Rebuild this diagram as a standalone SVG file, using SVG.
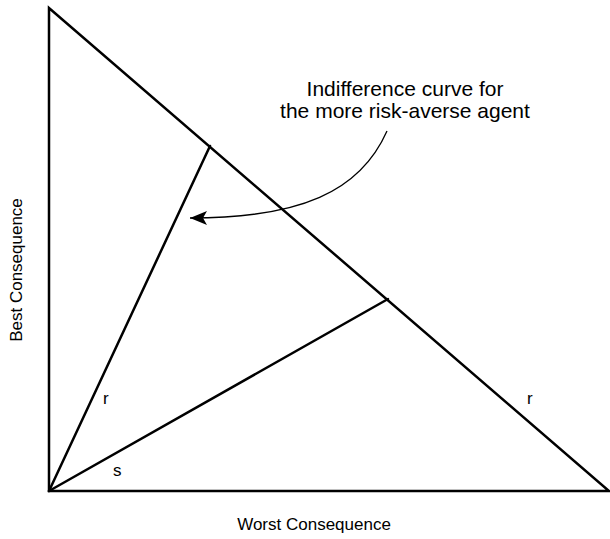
<svg xmlns="http://www.w3.org/2000/svg" width="610" height="539" viewBox="0 0 610 539">
<style>
.ln{stroke:#000;stroke-width:2.5;fill:none;stroke-linecap:round;stroke-linejoin:miter}
.cv{stroke:#000;stroke-width:1.3;fill:none}
text{font-family:"Liberation Sans",Arial,sans-serif;fill:#000}
.ax{font-size:17px}
.an{font-size:21px}
</style>
<defs>
<marker id="ah" markerWidth="18" markerHeight="14" refX="17" refY="7" orient="auto" markerUnits="userSpaceOnUse">
<path d="M0,0 L17,7 L0,14 L4,7 Z" fill="#000"/>
</marker>
</defs>
<g id="triangle">
<path class="ln" d="M49,8 L49,491 L609,491 Z"/>
</g>
<g id="connectors">
<line class="ln" x1="49" y1="491" x2="210" y2="146"/>
<line class="ln" x1="49" y1="491" x2="388" y2="299"/>
<path class="cv" d="M387,131 C360,192 300,218 190,218" marker-end="url(#ah)"/>
</g>
<g id="labels">
<text class="an" x="405" y="96" text-anchor="middle">Indifference curve for</text>
<text class="an" x="405" y="118" text-anchor="middle">the more risk-averse agent</text>
<text class="ax" x="314" y="530" text-anchor="middle">Worst Consequence</text>
<text class="ax" transform="translate(22,270) rotate(-90)" text-anchor="middle">Best Consequence</text>
<text class="ax" x="103" y="404">r</text>
<text class="ax" x="527" y="404">r</text>
<text class="ax" x="113" y="476">s</text>
</g>
</svg>
